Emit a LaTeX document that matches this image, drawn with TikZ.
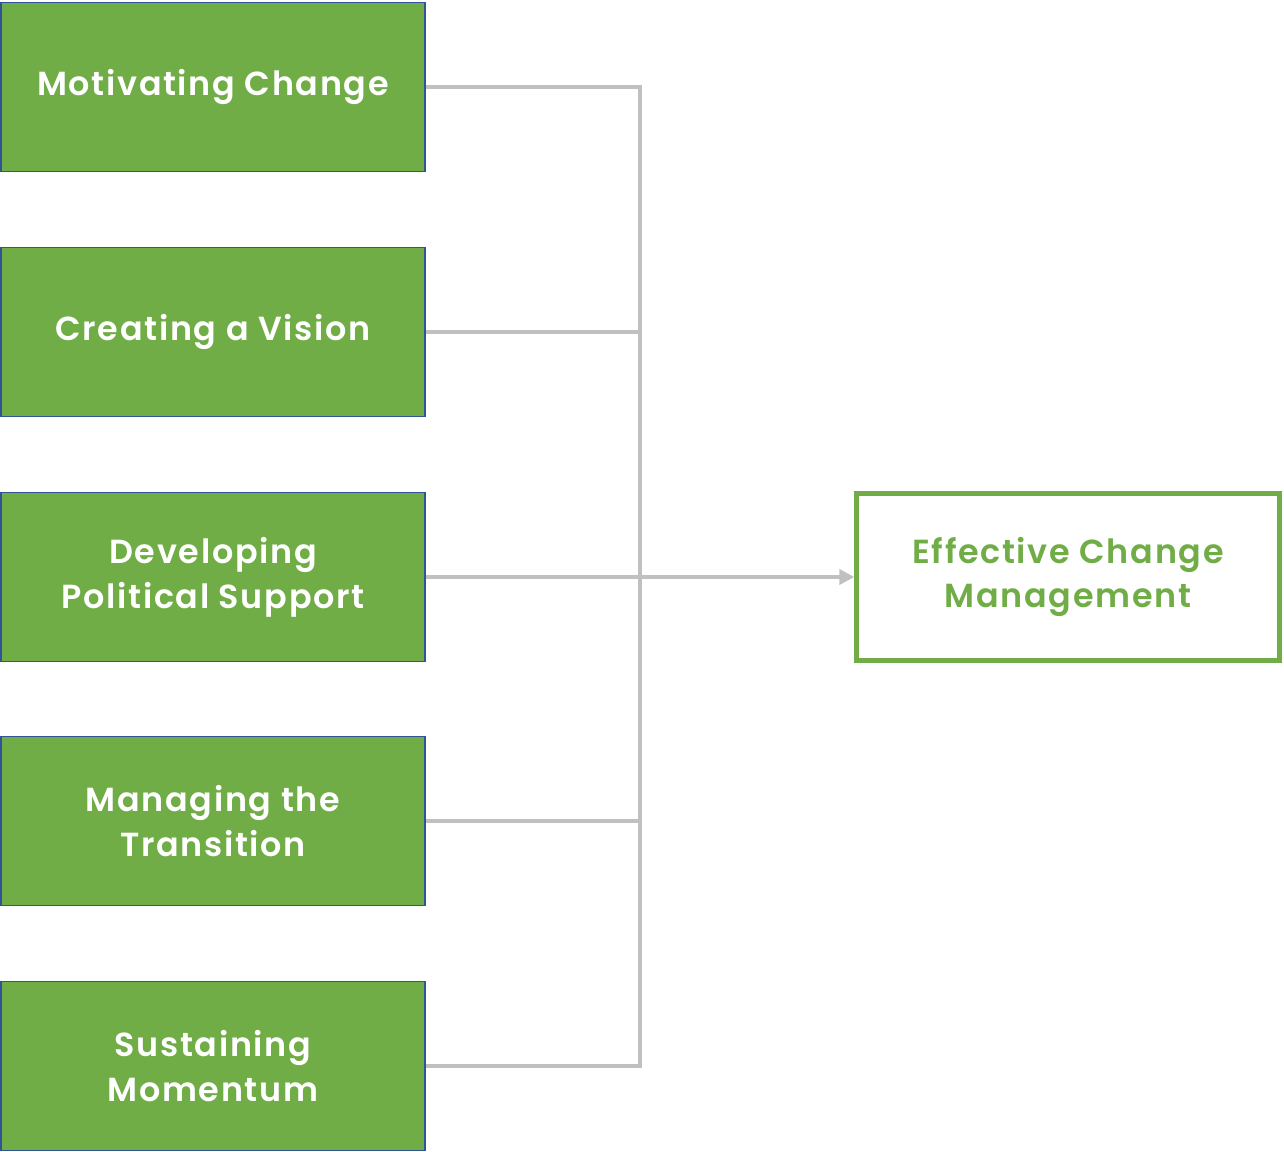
\documentclass[tikz,border=0pt]{standalone}
\usepackage{fontspec}
\setmainfont{Poppins}[BoldFont={* SemiBold}, LetterSpace=5]
\usepackage{xcolor}
\definecolor{phasegreen}{HTML}{70AD47}
\definecolor{phaseblue}{HTML}{2F5597}
\definecolor{linkgray}{HTML}{C0C0C0}
\usetikzlibrary{arrows.meta,positioning,calc}

\begin{document}
\begin{tikzpicture}[x=0.02cm, y=-0.02cm,
  phase/.style={draw=phaseblue, fill=phasegreen, line width=1.1pt,
                minimum width=8.48cm, minimum height=3.38cm,
                align=center, text=white,
                font=\fontsize{19}{25.5}\selectfont\bfseries},
  goal/.style={draw=phasegreen, fill=white, line width=2.8pt,
               minimum width=8.45cm, minimum height=3.35cm,
               align=center, text=phasegreen,
               font=\fontsize{19}{25.5}\selectfont\bfseries},
  link/.style={draw=linkgray, line width=2.4pt}
]
  \useasboundingbox (0,0) rectangle (1284,1152);

  \node[phase] (mot) at (213,87)   {Motivating Change};
  \node[phase] (vis) at (213,332)  {Creating a Vision};
  \node[phase] (pol) at (213,577)  {Developing\\Political Support};
  \node[phase] (tra) at (213,821)  {Managing the\\Transition};
  \node[phase] (sus) at (213,1066) {Sustaining\\Momentum};
  \node[goal]  (ecm) at (1068,577) {Effective Change\\Management};

  \coordinate (bus) at (640,577);

  \draw[link] (mot.east) -- (mot.east -| bus) -- (sus.east -| bus) -- (sus.east);
  \draw[link] (vis.east) -- (vis.east -| bus);
  \draw[link] (tra.east) -- (tra.east -| bus);
  \draw[link, -{Triangle[length=3mm,width=3mm]}] (pol.east) -- (ecm.west);

\end{tikzpicture}
\end{document}
